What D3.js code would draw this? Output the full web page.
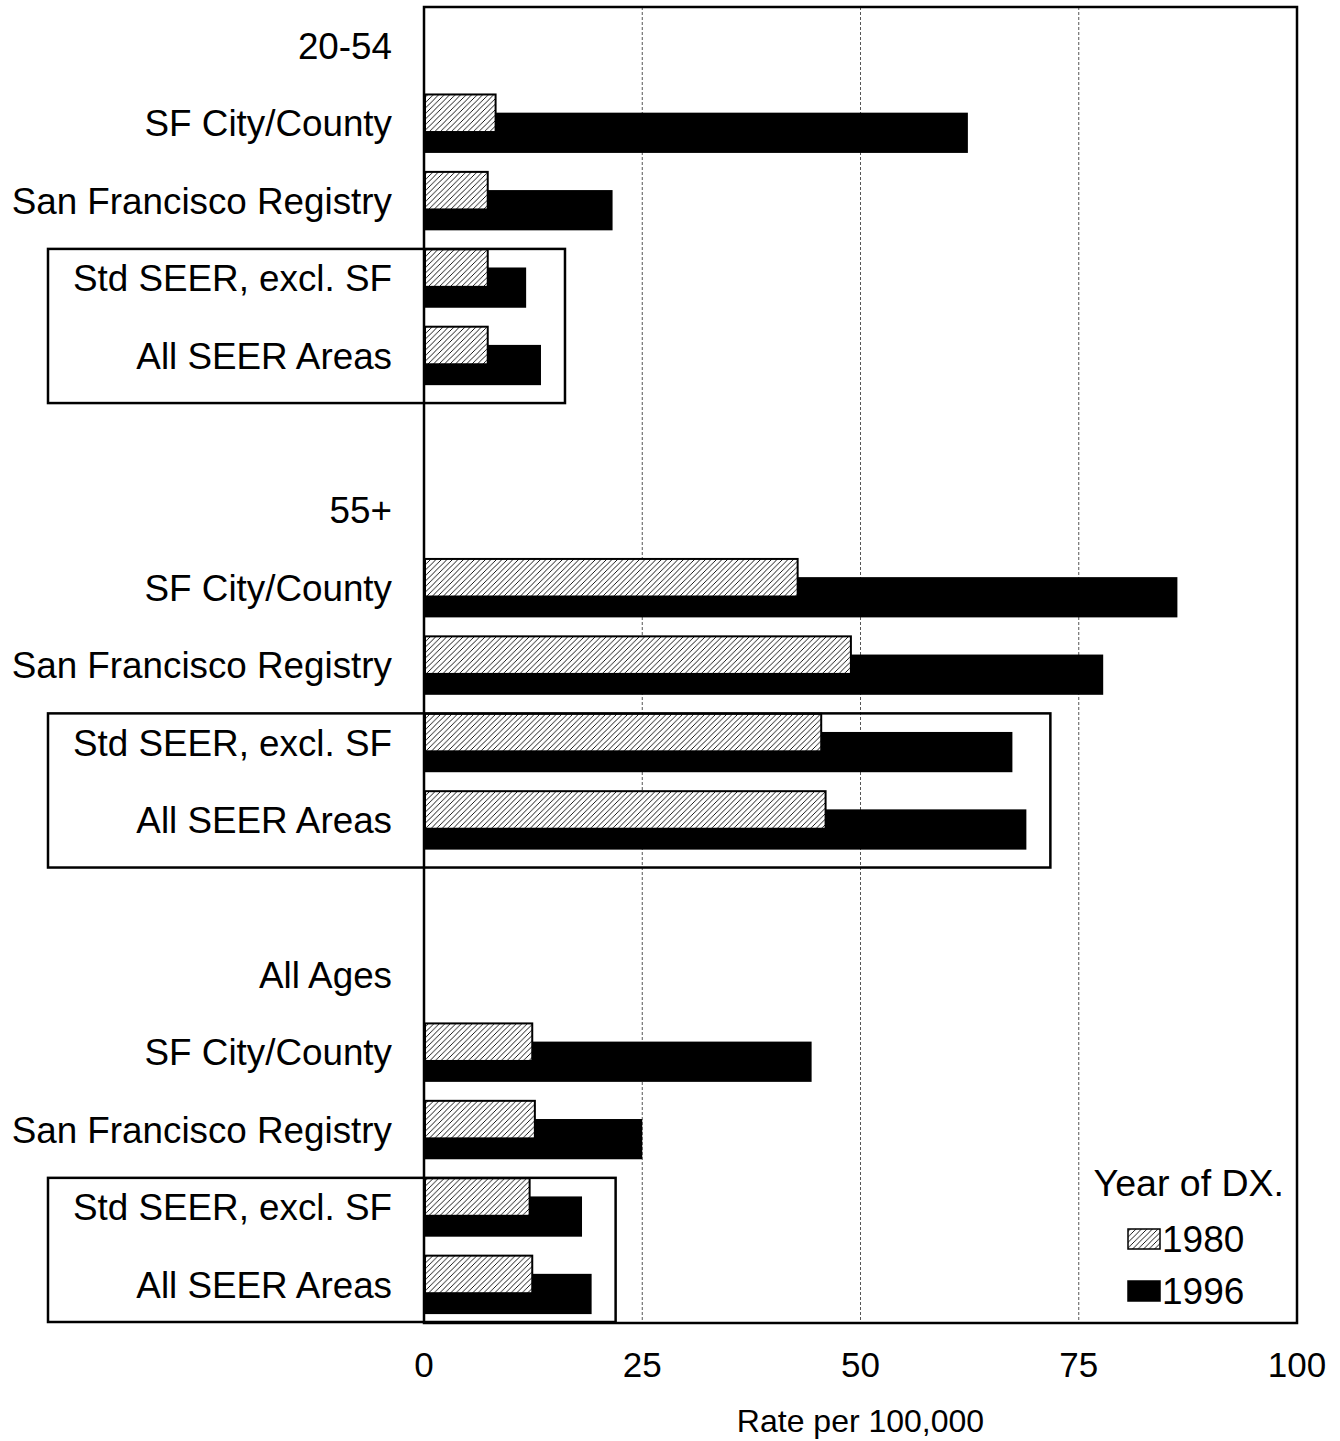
<!DOCTYPE html>
<html>
<head>
<meta charset="utf-8">
<script src="https://cdn.jsdelivr.net/npm/d3@7"></script>
<style>
  body { margin: 0; background: #fff; }
  text { font-family: "Liberation Sans", Arial, sans-serif; fill: #000; }
</style>
</head>
<body>
<svg id="chart" width="1340" height="1441"></svg>
<script>
let groups = ['20-54', '55+', 'All Ages'];
let areas = ['SF City/County', 'San Francisco Registry', 'Std SEER, excl. SF', 'All SEER Areas'];
let rate1980 = [[8.2, 7.3, 7.3, 7.3], [42.8, 48.9, 45.5, 46.0], [12.4, 12.7, 12.1, 12.4]];
let rate1996 = [[62.3, 21.6, 11.7, 13.4], [86.3, 77.8, 67.4, 69.0], [44.4, 25.0, 18.1, 19.2]];
let ticks = [0, 25, 50, 75, 100];
let years = ['1980', '1996'];

// flatten into rows: group header, 4 areas, blank spacer
let rows = [];
groups.forEach((g, gi) => {
  if (gi > 0) rows.push({label: '', blank: true});
  rows.push({label: g, header: true});
  areas.forEach((a, ai) => {
    rows.push({label: a, group: gi, area: ai, v80: rate1980[gi][ai], v96: rate1996[gi][ai]});
  });
});
rows.forEach((r, i) => r.i = i);

let plotLeft = 424, plotRight = 1297, plotTop = 7, plotBottom = 1323;

let svg = d3.select('#chart');

let xScale = d3.scaleLinear().domain([0, 100]).range([plotLeft, plotRight]);
let yScale = d3.scaleBand().domain(d3.range(rows.length)).range([plotTop, plotBottom]).padding(0);
let bw = yScale.bandwidth();

let defs = svg.append('defs');
let pat = defs.append('pattern')
    .attr('id', 'hatch')
    .attr('patternUnits', 'userSpaceOnUse')
    .attr('width', 5.5)
    .attr('height', 5.5);
pat.append('rect').attr('width', 5.5).attr('height', 5.5).attr('fill', '#fff');
pat.append('path')
    .attr('d', 'M-1,1 L1,-1 M0,5.5 L5.5,0 M4.5,6.5 L6.5,4.5')
    .attr('stroke', '#000')
    .attr('stroke-width', 0.9);

// dotted gridlines
svg.append('g')
  .selectAll('line')
  .data(ticks.filter(t => t > 0 && t < 100))
  .enter()
  .append('line')
    .attr('x1', d => xScale(d))
    .attr('x2', d => xScale(d))
    .attr('y1', plotTop)
    .attr('y2', plotBottom)
    .attr('stroke', '#555')
    .attr('stroke-width', 1)
    .attr('stroke-dasharray', '3,2');

let dataRows = rows.filter(r => r.v80 != null);

// 1996 solid bars (under)
svg.append('g')
  .selectAll('rect')
  .data(dataRows)
  .enter()
  .append('rect')
    .attr('x', xScale(0))
    .attr('y', d => yScale(d.i) + bw * 0.365)
    .attr('width', d => xScale(d.v96) - xScale(0))
    .attr('height', bw * 0.52)
    .attr('fill', '#000');

// 1980 hatched bars (over)
svg.append('g')
  .selectAll('rect')
  .data(dataRows)
  .enter()
  .append('rect')
    .attr('x', xScale(0) + 1)
    .attr('y', d => yScale(d.i) + bw * 0.13)
    .attr('width', d => xScale(d.v80) - xScale(0) - 1)
    .attr('height', bw * 0.485)
    .attr('fill', 'url(#hatch)')
    .attr('stroke', '#000')
    .attr('stroke-width', 2);

// boxes around the SEER rows
let boxes = groups.map((g, gi) => {
  let r = dataRows.filter(d => d.group === gi && d.area >= 2);
  let mx = d3.max(r, d => d.v96);
  return {
    x0: 48,
    x1: xScale(mx) + 24,
    y0: yScale(r[0].i) + bw * 0.125,
    y1: Math.min(yScale(r[1].i) + bw + 9, plotBottom - 1)
  };
});
svg.append('g')
  .selectAll('rect')
  .data(boxes)
  .enter()
  .append('rect')
    .attr('x', d => d.x0)
    .attr('y', d => d.y0)
    .attr('width', d => d.x1 - d.x0)
    .attr('height', d => d.y1 - d.y0)
    .attr('fill', 'none')
    .attr('stroke', '#000')
    .attr('stroke-width', 2.5);

// plot frame
svg.append('rect')
    .attr('x', plotLeft)
    .attr('y', plotTop)
    .attr('width', plotRight - plotLeft)
    .attr('height', plotBottom - plotTop)
    .attr('fill', 'none')
    .attr('stroke', '#000')
    .attr('stroke-width', 2.5);

// category labels
svg.append('g')
  .selectAll('text')
  .data(rows.filter(r => !r.blank))
  .enter()
  .append('text')
    .attr('x', 392)
    .attr('y', d => yScale(d.i) + bw / 2)
    .attr('dy', '0.36em')
    .attr('text-anchor', 'end')
    .attr('font-size', 36.8)
    .text(d => d.label);

// x axis tick labels
svg.append('g')
  .selectAll('text')
  .data(ticks)
  .enter()
  .append('text')
    .attr('x', d => xScale(d))
    .attr('y', 1377)
    .attr('text-anchor', 'middle')
    .attr('font-size', 35)
    .text(d => d);

svg.append('text')
    .attr('x', xScale(50))
    .attr('y', 1432)
    .attr('text-anchor', 'middle')
    .attr('font-size', 32)
    .text('Rate per 100,000');

// legend
let legend = svg.append('g');
legend.append('text')
    .attr('x', 1284)
    .attr('y', 1196)
    .attr('text-anchor', 'end')
    .attr('font-size', 37.5)
    .text('Year of DX.');
legend.selectAll('rect')
  .data(years)
  .enter()
  .append('rect')
    .attr('x', 1128)
    .attr('y', (d, i) => 1229 + i * 52)
    .attr('width', 32)
    .attr('height', 20)
    .attr('fill', (d, i) => i === 0 ? 'url(#hatch)' : '#000')
    .attr('stroke', '#000')
    .attr('stroke-width', 1.5);
legend.selectAll('text.yr')
  .data(years)
  .enter()
  .append('text')
    .attr('class', 'yr')
    .attr('x', 1162)
    .attr('y', (d, i) => 1252 + i * 52)
    .attr('font-size', 37)
    .text(d => d);
</script>
</body>
</html>
